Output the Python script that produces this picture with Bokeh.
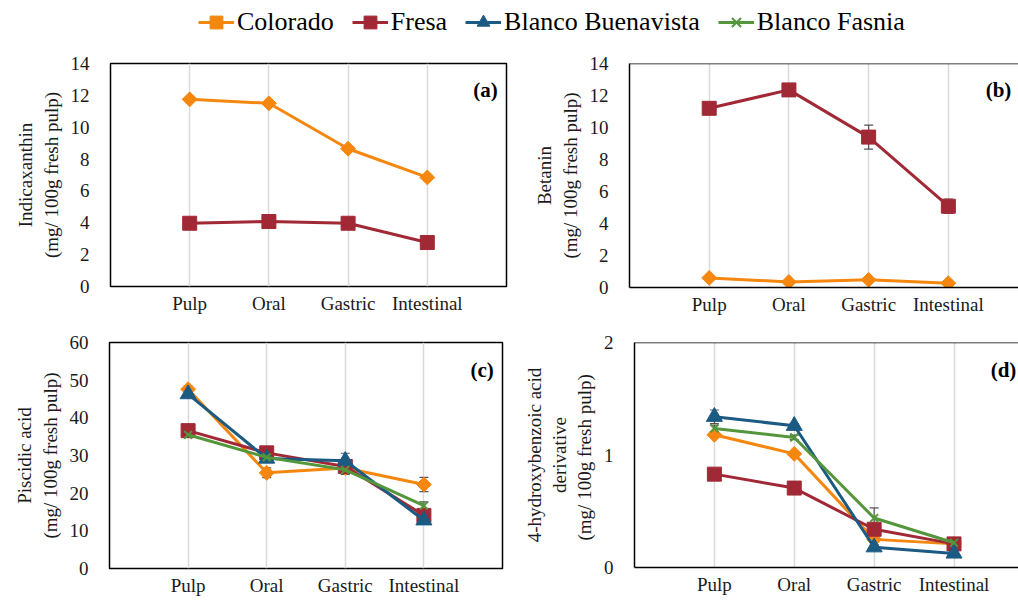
import math
from bokeh.plotting import figure
from bokeh.models import (FixedTicker, Whisker, ColumnDataSource, Legend, LegendItem,
                          Span, Label, TeeHead)
from bokeh.layouts import column, row
from bokeh.embed import file_html
from bokeh.resources import INLINE

FONT = "Liberation Serif"

stages = ["Pulp", "Oral", "Gastric", "Intestinal"]
xpos = [1, 2, 3, 4]

series_names = ["Colorado", "Fresa", "Blanco Buenavista", "Blanco Fasnia"]
colors = {"Colorado": "#F5870F", "Fresa": "#A12936",
          "Blanco Buenavista": "#1B5A83", "Blanco Fasnia": "#54963C"}
markers = {"Colorado": "square", "Fresa": "square",
           "Blanco Buenavista": "triangle", "Blanco Fasnia": "x"}
mangle = {"Colorado": math.pi / 4, "Fresa": 0,
          "Blanco Buenavista": 0, "Blanco Fasnia": 0}
msize = {"Colorado": 10.5, "Fresa": 14, "Blanco Buenavista": 16, "Blanco Fasnia": 11}

# (a) Indicaxanthin
a_colorado = [11.75, 11.5, 8.65, 6.85]
a_fresa = [3.97, 4.08, 3.97, 2.76]
a_colorado_err = [0.0, 0.0, 0.0, 0.0]
a_fresa_err = [0.0, 0.0, 0.0, 0.0]

# (b) Betanin
b_colorado = [0.6, 0.35, 0.48, 0.27]
b_fresa = [11.2, 12.35, 9.4, 5.08]
b_colorado_err = [0.0, 0.0, 0.0, 0.0]
b_fresa_err = [0.2, 0.15, 0.75, 0.45]

# (c) Piscidic acid
c_colorado = [47.6, 25.4, 26.7, 22.3]
c_fresa = [36.6, 30.7, 27.1, 14.1]
c_buenavista = [46.3, 29.2, 28.6, 12.8]
c_fasnia = [35.5, 29.5, 26.2, 16.7]
c_colorado_err = [0.8, 1.3, 0.8, 1.9]
c_fresa_err = [0.8, 0.8, 0.8, 0.8]
c_buenavista_err = [0.8, 1.0, 2.0, 0.6]
c_fasnia_err = [0.6, 0.8, 1.2, 1.0]

# (d) 4-hydroxybenzoic acid derivative
d_colorado = [1.18, 1.01, 0.25, 0.21]
d_fresa = [0.83, 0.706, 0.34, 0.21]
d_buenavista = [1.34, 1.26, 0.18, 0.125]
d_fasnia = [1.236, 1.156, 0.44, 0.22]
d_colorado_err = [0.02, 0.02, 0.02, 0.01]
d_fresa_err = [0.02, 0.02, 0.02, 0.01]
d_buenavista_err = [0.06, 0.02, 0.02, 0.01]
d_fasnia_err = [0.03, 0.02, 0.09, 0.02]

a_ticks = [0, 2, 4, 6, 8, 10, 12, 14]
b_ticks = [0, 2, 4, 6, 8, 10, 12, 14]
c_ticks = [0, 10, 20, 30, 40, 50, 60]
d_ticks = [0, 1, 2]


def add_marker(p, name, size_adj=0, **kw):
    col = colors[name]
    if markers[name] == "x":
        return p.scatter(marker="x", size=msize[name] + size_adj,
                         line_color=col, line_width=2, **kw)
    return p.scatter(marker=markers[name], size=msize[name] + size_adj,
                     angle=mangle[name], fill_color=col, line_color=col, **kw)


def make_panel(ylabel, yticks, series, tag, frame_w, frame_h, x_end,
               b_left, b_right, b_top, b_bottom, open_right):
    ymax = yticks[-1]
    p = figure(frame_width=frame_w, frame_height=frame_h,
               x_range=(0, x_end), y_range=(0, ymax),
               output_backend="svg", toolbar_location=None,
               min_border_left=b_left, min_border_right=b_right,
               min_border_top=b_top, min_border_bottom=b_bottom)
    p.background_fill_color = "white"
    p.border_fill_color = "white"
    p.ygrid.visible = False
    p.xgrid.ticker = FixedTicker(ticks=xpos)
    p.xgrid.grid_line_color = "#D9D9D9"
    p.xgrid.grid_line_width = 1.5
    p.xaxis.ticker = FixedTicker(ticks=xpos)
    p.xaxis.major_label_overrides = {x: s for x, s in zip(xpos, stages)}
    p.yaxis.ticker = FixedTicker(ticks=yticks)
    for ax in (p.xaxis, p.yaxis):
        ax.major_tick_line_color = None
        ax.minor_tick_line_color = None
        ax.major_tick_out = 0
        ax.major_tick_in = 0
        ax.minor_tick_out = 0
        ax.minor_tick_in = 0
        ax.major_label_text_font = FONT
        ax.major_label_text_font_size = "19px"
        ax.major_label_text_color = "#1a1a1a"
    p.xaxis.major_label_standoff = 6
    p.yaxis.major_label_standoff = 21
    p.yaxis.axis_label = ylabel
    p.yaxis.axis_label_text_font = FONT
    p.yaxis.axis_label_text_font_size = "19px"
    p.yaxis.axis_label_text_font_style = "normal"
    p.yaxis.axis_label_text_color = "#1a1a1a"
    p.yaxis.axis_label_standoff = 6
    if open_right:
        p.outline_line_color = None
        p.xaxis.axis_line_color = "black"
        p.yaxis.axis_line_color = "black"
        p.xaxis.axis_line_width = 1.5
        p.yaxis.axis_line_width = 1.5
        p.add_layout(Span(location=ymax, dimension="width",
                          line_color="black", line_width=1.5))
    else:
        p.outline_line_color = "black"
        p.outline_line_width = 1.5
        p.xaxis.axis_line_color = None
        p.yaxis.axis_line_color = None

    for name, vals, errs in series:
        col = colors[name]
        lower = [v - e for v, e in zip(vals, errs)]
        upper = [v + e for v, e in zip(vals, errs)]
        src = ColumnDataSource(dict(x=xpos, y=vals, lower=lower, upper=upper))
        w = Whisker(source=src, base="x", lower="lower", upper="upper",
                    line_color="#555555", line_width=1.2,
                    upper_head=TeeHead(size=9, line_color="#555555", line_width=1.2),
                    lower_head=TeeHead(size=9, line_color="#555555", line_width=1.2))
        p.add_layout(w)
        p.line("x", "y", source=src, line_color=col, line_width=3)
        add_marker(p, name, x="x", y="y", source=src)

    p.add_layout(Label(x=min(4.89, x_end - 0.09), y=0.88 * ymax, text="(" + tag + ")",
                       text_align="right", text_baseline="middle",
                       text_font=FONT, text_font_size="21px",
                       text_font_style="bold", text_color="black"))
    return p


pa = make_panel("Indicaxanthin\n(mg/ 100g fresh pulp)", a_ticks,
                [("Colorado", a_colorado, a_colorado_err),
                 ("Fresa", a_fresa, a_fresa_err)],
                "a", 396, 223, 5, 110, 14, 23, 34, False)
pb = make_panel("Betanin\n(mg/ 100g fresh pulp)", b_ticks,
                [("Colorado", b_colorado, b_colorado_err),
                 ("Fresa", b_fresa, b_fresa_err)],
                "b", 389, 224, 4.88, 109, 0, 23, 33, True)
pc = make_panel("Piscidic acid\n(mg/ 100g fresh pulp)", c_ticks,
                [("Colorado", c_colorado, c_colorado_err),
                 ("Fresa", c_fresa, c_fresa_err),
                 ("Blanco Buenavista", c_buenavista, c_buenavista_err),
                 ("Blanco Fasnia", c_fasnia, c_fasnia_err)],
                "c", 393, 226, 5, 109, 18, 21, 34, False)
pd_ = make_panel("4-hydroxybenzoic acid\nderivative\n(mg/  100g fresh pulp)", d_ticks,
                 [("Colorado", d_colorado, d_colorado_err),
                  ("Fresa", d_fresa, d_fresa_err),
                  ("Blanco Buenavista", d_buenavista, d_buenavista_err),
                  ("Blanco Fasnia", d_fasnia, d_fasnia_err)],
                 "d", 389, 225, 4.87, 109, 0, 22, 34, True)

# legend strip (dummy renderers placed outside the visible range)
pl = figure(width=1018, height=40, x_range=(0, 1), y_range=(0, 1),
            output_backend="svg", toolbar_location=None,
            min_border=0)
pl.axis.visible = False
pl.grid.visible = False
pl.outline_line_color = None
items = []
for name in series_names:
    col = colors[name]
    lr = pl.line(x=[5, 6], y=[5, 6], line_color=col, line_width=3)
    sr = add_marker(pl, name, size_adj=-2, x=[5], y=[5])
    items.append(LegendItem(label=name, renderers=[lr, sr]))
leg = Legend(items=items, orientation="horizontal", location=(198, 2),
             label_text_font=FONT, label_text_font_size="26px",
             label_text_color="black",
             glyph_width=36, glyph_height=32, label_standoff=3, spacing=18,
             padding=0, margin=0, border_line_color=None,
             background_fill_alpha=0)
pl.add_layout(leg, "center")

layout = column(pl, row(pa, pb, spacing=0), row(pc, pd_, spacing=0), spacing=0)

open("out.html", "w").write(file_html(layout, INLINE))
